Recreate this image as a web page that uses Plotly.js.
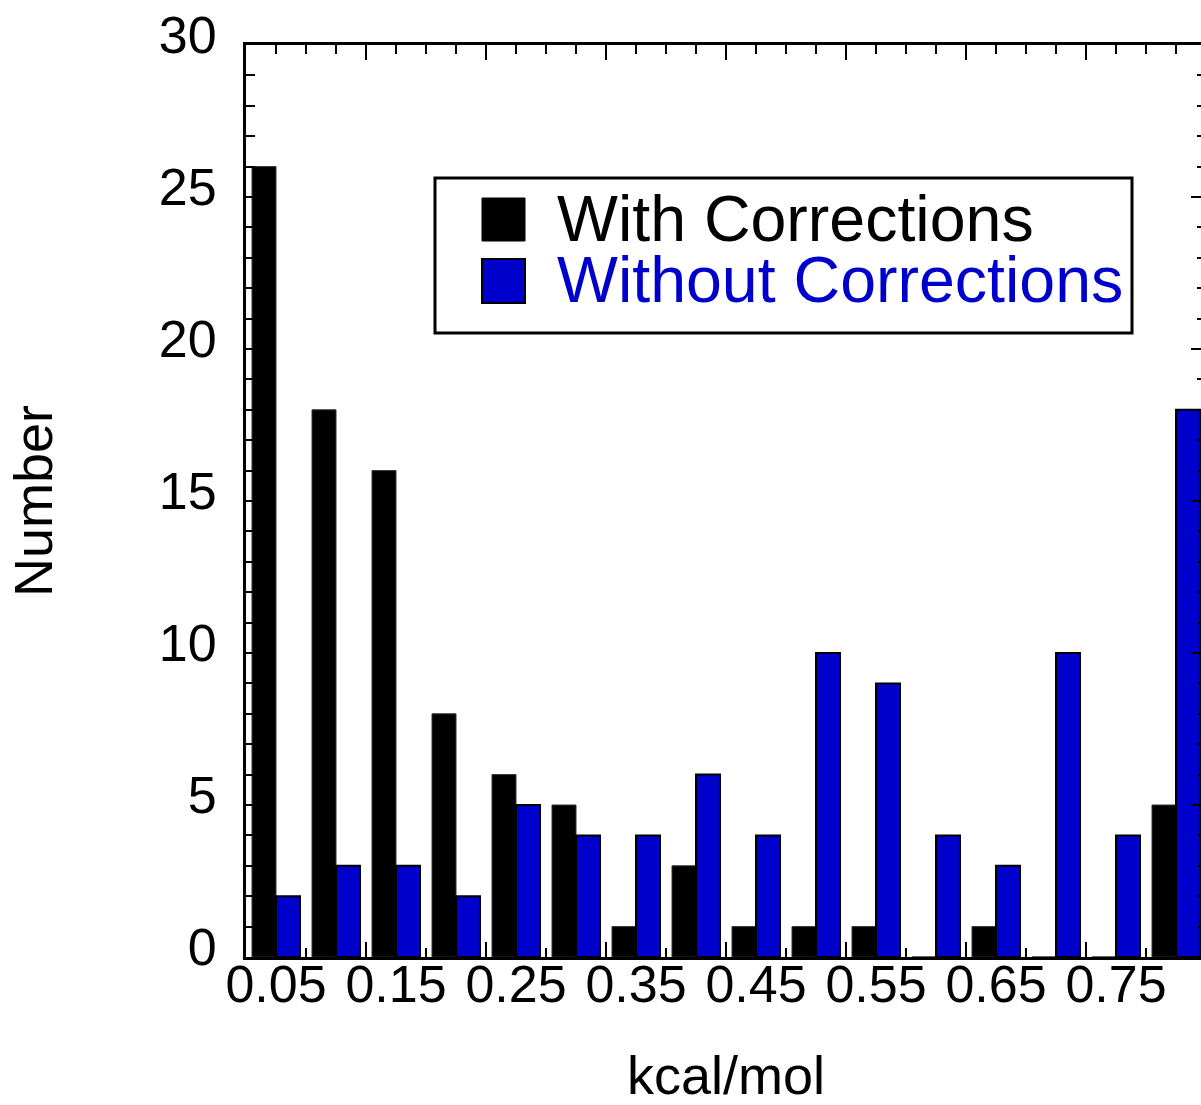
<!DOCTYPE html>
<html>
<head>
<meta charset="utf-8">
<script src="https://cdn.plot.ly/plotly-3.0.1.min.js"></script>
<style>
html,body{margin:0;padding:0;overflow:hidden;background:#fff;}
#chart{width:1212px;height:1105px;}
</style>
</head>
<body>
<div id="chart"></div>
<script>
// ---- data ----
var categories = [0.05,0.10,0.15,0.20,0.25,0.30,0.35,0.40,0.45,0.50,0.55,0.60,0.65,0.70,0.75,0.80];
var withCorrections = [26,18,16,8,6,5,1,3,1,1,1,0,1,0,0,5];
var withoutCorrections = [2,3,3,2,5,4,4,6,4,10,9,4,3,10,4,18];
var seriesNames = ["With Corrections","Without Corrections"];
var xTickLabels = ["0.05","0.15","0.25","0.35","0.45","0.55","0.65","0.75"];
var xTickValues = [0.05,0.15,0.25,0.35,0.45,0.55,0.65,0.75];
var xMajorTickValues = [0.125,0.225,0.325,0.425,0.525,0.625,0.725];
var xTitle = "kcal/mol";
var yTitle = "Number";

var BLUE = "#0000cc";
var FONT = "Liberation Sans, Arial, Helvetica, sans-serif";

var traces = [
  {type:"bar", x:categories, y:withCorrections, name:seriesNames[0],
   marker:{color:"#000000", line:{color:"#333333", width:1}}, showlegend:false},
  {type:"bar", x:categories, y:withoutCorrections, name:seriesNames[1],
   marker:{color:BLUE, line:{color:"#000000", width:2}}, showlegend:false},
  {type:"scatter", x:[], y:[], xaxis:"x2", yaxis:"y", showlegend:false, hoverinfo:"skip"}
];

// legend geometry in pixel -> paper helpers
var L=246, T=45, W=960, H=912;
function px(x){return (x-L)/W;}
function py(y){return (T+H-y)/H;}

var layout = {
  width:1212, height:1105,
  margin:{l:L, r:1212-L-W, t:T, b:1105-T-H, pad:0},
  paper_bgcolor:"#ffffff", plot_bgcolor:"#ffffff",
  barmode:"group", bargap:0.2, bargroupgap:0,
  font:{family:FONT, color:"#000", size:52},
  xaxis:{
    type:"linear", range:[0.025,0.825], fixedrange:true,
    tickmode:"array", tickvals:xTickValues, ticktext:xTickLabels,
    ticks:"", showgrid:false, zeroline:false,
    showline:true, linecolor:"#000", linewidth:3, mirror:true,
    tickfont:{family:FONT, size:52, color:"#000"},
    ticklabelstandoff:-20,
    title:{text:xTitle, font:{family:FONT, size:54, color:"#000"}, standoff:87}
  },
  xaxis2:{
    type:"linear", range:[0.025,0.825], overlaying:"x", anchor:"y", side:"bottom", fixedrange:true,
    tickmode:"array", tickvals:xMajorTickValues, showticklabels:false,
    ticks:"inside", ticklen:15, tickwidth:2, tickcolor:"#000",
    showgrid:false, zeroline:false, showline:false, mirror:"ticks",
    minor:{tick0:0.025, dtick:0.025, ticks:"inside", ticklen:9, tickwidth:2, tickcolor:"#000", showgrid:false}
  },
  yaxis:{
    range:[0,30], fixedrange:true,
    tickmode:"linear", tick0:0, dtick:5,
    ticks:"inside", ticklen:15, tickwidth:2, tickcolor:"#000",
    minor:{dtick:1, ticks:"inside", ticklen:9, tickwidth:2, tickcolor:"#000", showgrid:false},
    showgrid:false, zeroline:false,
    showline:true, linecolor:"#000", linewidth:3, mirror:"ticks",
    tickfont:{family:FONT, size:52, color:"#000"},
    ticklabelstandoff:16, ticklabelshift:-10,
    title:{text:yTitle, font:{family:FONT, size:54, color:"#000"}, standoff:89}
  },
  shapes:[
    {type:"rect", xref:"paper", yref:"paper", x0:px(435), x1:px(1132), y0:py(333), y1:py(178),
     line:{color:"#000", width:3}, fillcolor:"rgba(255,255,255,1)", layer:"above"},
    {type:"rect", xref:"paper", yref:"paper", x0:px(482), x1:px(525), y0:py(241), y1:py(198),
     line:{color:"#000", width:1}, fillcolor:"#000", layer:"above"},
    {type:"rect", xref:"paper", yref:"paper", x0:px(482), x1:px(525), y0:py(303), y1:py(259),
     line:{color:"#000", width:2}, fillcolor:BLUE, layer:"above"}
  ],
  annotations:[
    {xref:"paper", yref:"paper", x:px(555), y:py(219), xanchor:"left", yanchor:"middle",
     text:seriesNames[0], showarrow:false, font:{family:FONT, size:64.5, color:"#000"}},
    {xref:"paper", yref:"paper", x:px(555), y:py(280), xanchor:"left", yanchor:"middle",
     text:seriesNames[1], showarrow:false, font:{family:FONT, size:64.5, color:BLUE}}
  ]
};

Plotly.newPlot("chart", traces, layout, {displayModeBar:false, staticPlot:true});
</script>
</body>
</html>
